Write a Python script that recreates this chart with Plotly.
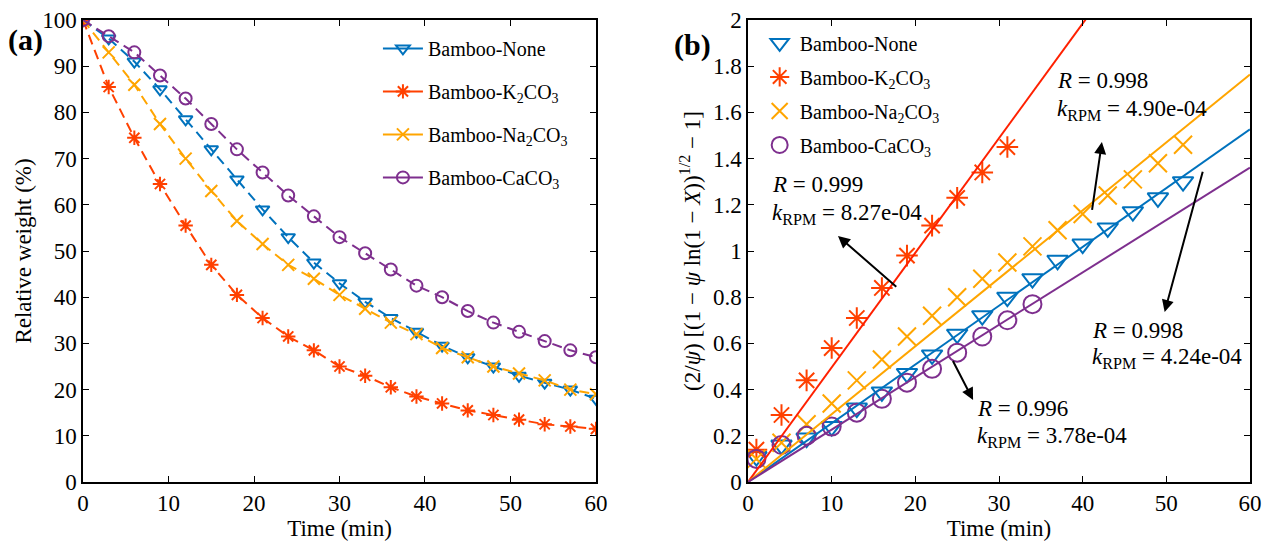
import plotly.graph_objects as go

# ---------------- data ----------------
series_names = ["Bamboo-None", "Bamboo-K<sub>2</sub>CO<sub>3</sub>",
                "Bamboo-Na<sub>2</sub>CO<sub>3</sub>", "Bamboo-CaCO<sub>3</sub>"]

# Panel (a): relative weight vs time
time_a = [0, 3, 6, 9, 12, 15, 18, 21, 24, 27, 30, 33, 36, 39, 42, 45, 48, 51, 54, 57, 60]
weight_none = [100, 96, 91, 85, 78.5, 72, 65.5, 59, 53, 47.5, 43, 39, 35.5, 32.5, 29.5, 27, 25, 23, 21.5, 20, 18]
weight_k2co3 = [100, 85.5, 74.5, 64.5, 55.5, 47, 40.5, 35.5, 31.5, 28.5, 25, 23, 20.5, 18.5, 17, 15.5, 14.5, 13.5, 12.5, 12, 11.5]
weight_na2co3 = [100, 93, 86, 77.5, 70, 63, 56.5, 51.5, 47, 44, 40.5, 37.5, 34.5, 32, 29, 27, 25, 23.5, 22, 20, 19]
weight_caco3 = [100, 96.5, 93, 88, 83, 77.5, 72, 67, 62, 57.5, 53, 49.5, 46, 42.5, 40, 37, 34.5, 32.5, 30.5, 28.5, 27]

# Panel (b): RPM linearisation
time_b_long = [1, 4, 7, 10, 13, 16, 19, 22, 25, 28, 31, 34, 37, 40, 43, 46, 49, 52]
rpm_none = [0.11, 0.16, 0.19, 0.24, 0.32, 0.39, 0.47, 0.55, 0.64, 0.72, 0.80, 0.88, 0.96, 1.03, 1.10, 1.17, 1.23, 1.30]
time_b_k = [1, 4, 7, 10, 13, 16, 19, 22, 25, 28, 31]
rpm_k2co3 = [0.14, 0.29, 0.44, 0.58, 0.71, 0.84, 0.98, 1.11, 1.23, 1.34, 1.45]
rpm_na2co3 = [0.10, 0.17, 0.25, 0.34, 0.44, 0.53, 0.63, 0.72, 0.80, 0.88, 0.95, 1.02, 1.09, 1.16, 1.24, 1.31, 1.38, 1.46]
time_b_ca = [1, 4, 7, 10, 13, 16, 19, 22, 25, 28, 31, 34]
rpm_caco3 = [0.10, 0.16, 0.20, 0.24, 0.30, 0.36, 0.43, 0.49, 0.56, 0.63, 0.70, 0.77]

# fitted rate constants (per s) and correlation coefficients
k_rpm = [4.24e-04, 8.27e-04, 4.90e-04, 3.78e-04]
r_vals = [0.998, 0.999, 0.998, 0.996]
fit_x = [0, 60]

colors = ["#0072BD", "#FF4000", "#FFA500", "#7E2F8E"]
line_colors_b = ["#0072BD", "#FF2000", "#FFA500", "#7E2F8E"]
symbols = ["triangle-down-open", "asterisk-open", "x-thin-open", "circle-open"]

FONT = "Liberation Serif"

fig = go.Figure()

# ---------------- panel (a) ----------------
weights = [weight_none, weight_k2co3, weight_na2co3, weight_caco3]
for i, (name, w, c, s) in enumerate(zip(series_names, weights, colors, symbols)):
    fig.add_trace(go.Scatter(
        x=time_a, y=w, name=name, mode="lines+markers", showlegend=False,
        line=dict(color=c, width=2, dash="10px,6px"),
        marker=dict(symbol=s, size=12, color=c, line=dict(color=c, width=2)),
        xaxis="x", yaxis="y"))
    # legend entry (solid line sample with marker, as in the original legend)
    fig.add_trace(go.Scatter(
        x=[None], y=[None], name=name, mode="lines+markers",
        line=dict(color=c, width=2),
        marker=dict(symbol=s, size=12, color=c, line=dict(color=c, width=2)),
        xaxis="x", yaxis="y", legend="legend", legendgroup=f"a{i}"))

# ---------------- panel (b) ----------------
xs_b = [time_b_long, time_b_k, time_b_long, time_b_ca]
ys_b = [rpm_none, rpm_k2co3, rpm_na2co3, rpm_caco3]
for i, (name, xb, yb, c, s) in enumerate(zip(series_names, xs_b, ys_b, colors, symbols)):
    fig.add_trace(go.Scatter(
        x=xb, y=yb, name=name, mode="markers",
        marker=dict(symbol=s, size=18, color=c, line=dict(color=c, width=2)),
        xaxis="x2", yaxis="y2", legend="legend2", legendgroup=f"b{i}"))

for k, c in zip(k_rpm, line_colors_b):
    slope = k * 60
    fig.add_trace(go.Scatter(
        x=fit_x, y=[slope * v for v in fit_x], mode="lines", showlegend=False,
        line=dict(color=c, width=2), xaxis="x2", yaxis="y2", hoverinfo="skip"))

axis_common = dict(
    showline=True, linecolor="black", linewidth=1.5, mirror="ticks",
    ticks="inside", ticklen=6, tickwidth=1.2, tickcolor="black",
    showgrid=False, zeroline=False, automargin=False,
    tickfont=dict(family=FONT, size=23, color="black"),
    title_font=dict(family=FONT, size=23, color="black"),
)

fig.update_layout(
    width=1264, height=545,
    margin=dict(l=0, r=0, t=0, b=0),
    paper_bgcolor="white", plot_bgcolor="white",
    font=dict(family=FONT, color="black"),
    xaxis=dict(domain=[0.0657, 0.4715], range=[0, 60], dtick=10,
               title=dict(text="Time (min)", standoff=0), **axis_common),
    yaxis=dict(domain=[0.1156, 0.9633], range=[0, 100], dtick=10,
               title=dict(text="Relative weight (%)", standoff=4), **axis_common),
    xaxis2=dict(domain=[0.5918, 0.9889], range=[0, 60], dtick=10, anchor="y2",
                title=dict(text="Time (min)", standoff=0), **axis_common),
    yaxis2=dict(domain=[0.1156, 0.9633], range=[0, 2], dtick=0.2, anchor="x2",
                title=dict(text="(2/<i>ψ</i>) [(1 − <i>ψ</i> ln(1 − <i>X</i>))<sup>1/2</sup> − 1]",
                           standoff=6), **axis_common),
    legend=dict(x=0.299, y=0.947, xanchor="left", yanchor="top",
                bgcolor="rgba(0,0,0,0)", font=dict(family=FONT, size=20),
                itemwidth=40, tracegroupgap=14),
    legend2=dict(x=0.601, y=0.957, xanchor="left", yanchor="top",
                 bgcolor="rgba(0,0,0,0)", font=dict(family=FONT, size=20),
                 itemwidth=30, tracegroupgap=5),
    showlegend=True,
)

# panel labels
fig.add_annotation(text="<b>(a)</b>", x=0.005, y=0.927, xref="paper", yref="paper",
                   xanchor="left", yanchor="middle", showarrow=False,
                   font=dict(family=FONT, size=30, color="black"))
fig.add_annotation(text="<b>(b)</b>", x=0.532, y=0.917, xref="paper", yref="paper",
                   xanchor="left", yanchor="middle", showarrow=False,
                   font=dict(family=FONT, size=30, color="black"))

# fit annotations: (text x, R y, k y, arrow head x,y, arrow tail x,y)
ann_idx = [1, 2, 0, 3]
ann_pos = [
    (2.6, 1.286, 1.16, 10.75, 1.065, 17.9, 0.84),
    (36.7, 1.74, 1.61, 42.3, 1.472, 41.1, 1.172),
    (40.9, 0.658, 0.535, 49.8, 0.736, 54.4, 1.35),
    (27.1, 0.32, 0.195, 26.9, 0.355, 24.4, 0.53),
]
for i, (tx, ry, ky, hx, hy, ax_, ay_) in zip(ann_idx, ann_pos):
    fig.add_annotation(text=f"<i>R</i> = {r_vals[i]:.3f}", x=tx, y=ry, xref="x2", yref="y2",
                       xanchor="left", yanchor="middle", showarrow=False,
                       font=dict(family=FONT, size=23, color="black"))
    fig.add_annotation(text=f"<i>k</i><sub>RPM</sub> = {k_rpm[i]:.2e}", x=tx, y=ky,
                       xref="x2", yref="y2", xanchor="left", yanchor="middle",
                       showarrow=False, font=dict(family=FONT, size=23, color="black"))
    fig.add_annotation(text="", x=hx, y=hy, ax=ax_, ay=ay_, xref="x2", yref="y2",
                       axref="x2", ayref="y2", showarrow=True, arrowhead=2,
                       arrowsize=1.2, arrowwidth=2, arrowcolor="black")

fig.write_html("out.html", config={"displayModeBar": False},
               post_script="document.body.style.margin='0px';")
